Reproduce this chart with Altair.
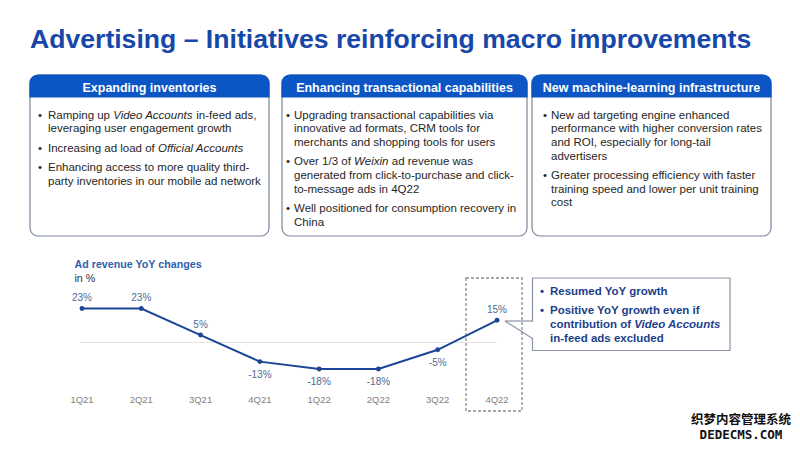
import altair as alt
import pandas as pd

# ---------------- data ----------------
quarters = ["1Q21", "2Q21", "3Q21", "4Q21", "1Q22", "2Q22", "3Q22", "4Q22"]
yoy = [23, 23, 5, -13, -18, -18, -5, 15]

slide_title = "Advertising – Initiatives reinforcing macro improvements"
chart_title = "Ad revenue YoY changes"
chart_unit = "in %"

box_titles = ["Expanding inventories",
              "Enhancing transactional capabilities",
              "New machine-learning infrastructure"]
box_bullets = [
    [["Ramping up *Video Accounts* in-feed ads,", "leveraging user engagement growth"],
     ["Increasing ad load of *Official Accounts*"],
     ["Enhancing access to more quality third-", "party inventories in our mobile ad network"]],
    [["Upgrading transactional capabilities via", "innovative ad formats, CRM tools for",
      "merchants and shopping tools for users"],
     ["Over 1/3 of *Weixin* ad revenue was", "generated from click-to-purchase and click-",
      "to-message ads in 4Q22"],
     ["Well positioned for consumption recovery in", "China"]],
    [["New ad targeting engine enhanced", "performance with higher conversion rates",
      "and ROI, especially for long-tail", "advertisers"],
     ["Greater processing efficiency with faster", "training speed and lower per unit training",
      "cost"]],
]
callout_bullets = [
    ["Resumed YoY growth"],
    ["Positive YoY growth even if", "contribution of *Video Accounts*", "in-feed ads excluded"],
]
watermark = ["织梦内容管理系统", "DEDECMS.COM"]

# ---------------- layout helpers ----------------
FONT = "Liberation Sans, Arial, Helvetica, sans-serif"
M = 8  # page margin


def P(v):
    return v - M


_REG = dict(zip("ABCDEFGHIJKLMNOPQRSTUVWXYZ",
                [667, 667, 722, 722, 667, 611, 778, 722, 278, 500, 667, 556, 833, 722, 778, 667, 778, 722, 667,
                 611, 722, 667, 944, 667, 667, 611]))
_REG.update(dict(zip("abcdefghijklmnopqrstuvwxyz",
                     [556, 556, 500, 556, 556, 278, 556, 556, 222, 222, 500, 222, 833, 556, 556, 556, 556, 333,
                      500, 278, 556, 500, 722, 500, 500, 500])))
_BOLD = dict(zip("ABCDEFGHIJKLMNOPQRSTUVWXYZ",
                 [722, 722, 722, 722, 667, 611, 778, 722, 278, 556, 722, 611, 833, 722, 778, 667, 778, 722, 667,
                  611, 722, 667, 944, 667, 667, 611]))
_BOLD.update(dict(zip("abcdefghijklmnopqrstuvwxyz",
                      [556, 611, 556, 611, 556, 333, 611, 611, 278, 278, 556, 278, 889, 611, 611, 611, 611, 389,
                       556, 333, 611, 556, 778, 556, 556, 500])))
for d in (_REG, _BOLD):
    d.update({" ": 278, ",": 278, "-": 333, ".": 278, "/": 278, "%": 889, "–": 556})
    d.update({c: 556 for c in "0123456789"})


def tw(s, bold, size):
    t = _BOLD if bold else _REG
    return sum(t.get(c, 556) for c in s) / 1000.0 * size


groups = {}


def add_text(key, t, x, y, c, s):
    groups.setdefault(key, []).append({"t": t, "x": P(x), "y": P(y), "c": c, "s": s})


def add_line(line, x0, y, bold, size, color):
    cx = x0
    for i, part in enumerate(line.split("*")):
        if not part:
            continue
        ital = (i % 2 == 1)
        lead = len(part) - len(part.lstrip(" "))
        add_text(("bold" if bold else "normal", "italic" if ital else "normal", "left", FONT),
                 part.strip(" "), cx + tw(" " * lead, bold, size), y, color, size)
        cx += tw(part, bold, size)


# slide title
add_text(("bold", "normal", "left", FONT), slide_title, 30, 40, "#1747a8", 26.6)

# three boxes
boxes_x = [(30, 269), (282, 527), (532, 771)]
bullet_x = [(38, 48), (286, 294), (543, 551)]
BOX_TOP, BOX_BOTTOM, HEAD_BOTTOM = 75, 236, 97
BODY = 11.5
for b in range(3):
    x1, x2 = boxes_x[b]
    add_text(("bold", "normal", "center", FONT), box_titles[b], (x1 + x2) / 2, 88, "#ffffff", 12.5)
    y = 115.5
    for bullet in box_bullets[b]:
        for li, line in enumerate(bullet):
            if li == 0:
                add_text(("normal", "normal", "left", FONT), "•", bullet_x[b][0], y, "#262626", BODY)
            add_line(line, bullet_x[b][1], y, False, BODY, "#262626")
            y += 13.7
        y += 5.6

# chart heading
add_text(("bold", "normal", "left", FONT), chart_title, 74.5, 264.5, "#2f5fae", 10.7)
add_text(("normal", "normal", "left", FONT), chart_unit, 74.5, 278.5, "#333333", 10.7)

# callout text
y = 292
for bullet in callout_bullets:
    for li, line in enumerate(bullet):
        if li == 0:
            add_text(("bold", "normal", "left", FONT), "•", 540, y, "#1c3f8c", 11.5)
        add_line(line, 550, y, True, 11.5, "#1c3f8c")
        y += 14
    y += 5.3

# watermark
add_text(("bold", "normal", "center", "Noto Sans CJK SC"), watermark[0], 741, 420, "#111111", 12.5)
add_text(("bold", "normal", "center", "DejaVu Sans Mono"), watermark[1], 741, 434.5, "#111111", 12.5)


def text_layer(key, rows):
    weight, style, align, font = key
    return alt.Chart(pd.DataFrame(rows)).mark_text(
        align=align, baseline="middle", fontWeight=weight, fontStyle=style, font=font
    ).encode(
        x=alt.X("x:Q", scale=None, axis=None),
        y=alt.Y("y:Q", scale=None, axis=None),
        text="t:N",
        color=alt.Color("c:N", scale=None, legend=None),
        size=alt.Size("s:Q", scale=None, legend=None),
    )


def rect_layer(rows, **mark):
    return alt.Chart(pd.DataFrame(rows)).mark_rect(**mark).encode(
        x=alt.X("x:Q", scale=None, axis=None), x2="x2:Q",
        y=alt.Y("y:Q", scale=None, axis=None), y2="y2:Q")


def rule_layer(rows, **mark):
    return alt.Chart(pd.DataFrame(rows)).mark_rule(**mark).encode(
        x=alt.X("x:Q", scale=None, axis=None), x2="x2:Q",
        y=alt.Y("y:Q", scale=None, axis=None), y2="y2:Q")


def R(x1, x2, y1, y2):
    return {"x": P(x1), "x2": P(x2), "y": P(y1), "y2": P(y2)}


layers = []
layers.append(rect_layer([R(x1, x2, BOX_TOP, BOX_BOTTOM) for x1, x2 in boxes_x],
                         fill="#ffffff", stroke="#7b879b", strokeWidth=1.2, cornerRadius=8))
layers.append(rect_layer([R(x1, x2, BOX_TOP, HEAD_BOTTOM) for x1, x2 in boxes_x],
                         fill="#0c55c4", stroke="#0c55c4", strokeWidth=1.2,
                         cornerRadiusTopLeft=8, cornerRadiusTopRight=8))
# dashed highlight of the latest quarter
layers.append(rect_layer([R(466, 522, 278, 411)], fillOpacity=0, stroke="#8c8c8c",
                         strokeWidth=1.3, strokeDash=[3, 2]))
# callout box with notch
layers.append(rect_layer([R(532.5, 730, 278, 350.5)], fill="#ffffff", stroke="#8a94a6", strokeWidth=1.2))
layers.append(rule_layer([R(532.5, 532.5, 321.8, 337.8)], color="#ffffff", strokeWidth=3))
layers.append(rule_layer([R(505, 532.5, 321, 321), R(505, 532.5, 321, 338.5)],
                         color="#8a94a6", strokeWidth=1.2))

# ---------------- data layer ----------------
df = pd.DataFrame({"q": quarters, "v": yoy, "lab": [f"{v}%" for v in yoy]})
xs = alt.Scale(type="point", domain=quarters, range=[P(82), P(497)], padding=0)
ys = alt.Scale(domain=[-18, 23], range=[P(369), P(308.5)], nice=False, zero=False)
X = alt.X("q:N", sort=quarters, scale=xs, axis=None)
Y = alt.Y("v:Q", scale=ys, axis=None)
base = alt.Chart(df).encode(x=X, y=Y)
LINE = "#1b4597"
zero = alt.Chart(pd.DataFrame({"z": [0]})).mark_rule(color="#e2e2e2", strokeWidth=1).encode(
    y=alt.Y("z:Q", scale=ys, axis=None), x=alt.value(P(80.5)), x2=alt.value(P(497)))
line = base.mark_line(color=LINE, strokeWidth=2)
pts = base.mark_circle(size=24, color=LINE, opacity=1)
pos = base.transform_filter("datum.v >= 0").mark_text(
    dy=-10.5, fontSize=10, font=FONT, color="#4f6b94").encode(text="lab:N")
neg = base.transform_filter("datum.v < 0").mark_text(
    dy=13, fontSize=10, font=FONT, color="#4f6b94").encode(text="lab:N")
qlab = base.mark_text(fontSize=9.5, font=FONT, color="#808080").encode(
    x=X, y=alt.value(P(400)), text="q:N")
data_layer = alt.layer(zero, line, pts, pos, neg, qlab)
layers.append(data_layer)

for key, rows in groups.items():
    layers.append(text_layer(key, rows))

chart = alt.layer(*layers).resolve_scale(
    x="independent", y="independent", color="independent", size="independent"
).properties(
    width=784, height=434, padding=0, autosize=alt.AutoSizeParams(type="none")
).configure_view(stroke=None)

chart.save("out.html", embed_options={"renderer": "svg", "actions": False})
